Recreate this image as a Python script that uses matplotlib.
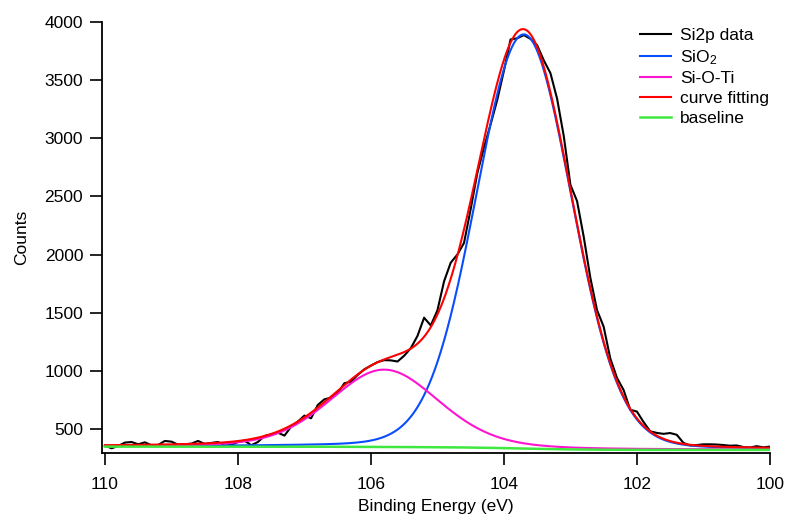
import numpy as np
import matplotlib
matplotlib.use("Agg")
import matplotlib.pyplot as plt

plt.rcParams['font.family'] = ['Liberation Sans', 'DejaVu Sans']
plt.rcParams['mathtext.fontset'] = 'custom'
plt.rcParams['mathtext.rm'] = 'Liberation Sans'
plt.rcParams['mathtext.it'] = 'Liberation Sans:italic'

# Si2p raw data, binding energy 110.0 -> 100.0 eV in 0.1 eV steps
counts = [357, 334, 354, 383, 388, 368, 385, 360, 362, 397,
          391, 365, 368, 374, 397, 371, 380, 388, 357, 362,
          388, 400, 360, 388, 440, 452, 468, 443, 520, 563,
          615, 592, 706, 755, 769, 807, 893, 907, 964, 1013,
          1045, 1075, 1092, 1090, 1080, 1130, 1195, 1300, 1457, 1390,
          1520, 1770, 1930, 2000, 2100, 2390, 2700, 2920, 3120, 3330,
          3580, 3850, 3860, 3888, 3855, 3800, 3670, 3560, 3340, 3020,
          2600, 2460, 2154, 1800, 1523, 1380, 1107, 940, 835, 665,
          650, 560, 480, 466, 458, 465, 450, 380, 358, 362,
          368, 368, 366, 362, 356, 358, 345, 340, 352, 342,
          348]
energy = np.linspace(110.0, 100.0, len(counts))

# fitted peak parameters (center eV, height, FWHM eV, Lorentzian fraction)
sio2_peak = dict(center=103.70, height=3562, fwhm=1.70, lor=0.08)
siOti_peak = dict(center=105.80, height=665, fwhm=1.93, lor=0.22)
# baseline end levels (high BE side, low BE side)
baseline_high = 348
baseline_low = 320

labels = ["Si2p data", "SiO$_2$", "Si-O-Ti", "curve fitting", "baseline"]
xticks = [110, 108, 106, 104, 102, 100]
yticks = [500, 1000, 1500, 2000, 2500, 3000, 3500, 4000]


def gl(x, center, height, fwhm, lor):
    d = (x - center) / fwhm
    g = np.exp(-4 * np.log(2) * d ** 2)
    l = 1.0 / (1 + 4 * d ** 2)
    return height * ((1 - lor) * g + lor * l)


xf = np.linspace(110.0, 100.0, 1001)
p1 = gl(xf, **sio2_peak)
p2 = gl(xf, **siOti_peak)
tot = p1 + p2
# Shirley-type step: proportional to peak area on the low-BE side
area = np.cumsum(tot[::-1])[::-1]
area = area / area[0]
base = baseline_low + (baseline_high - baseline_low) * area

fig = plt.figure(figsize=(7.88, 5.17), dpi=100)
ax = fig.add_axes([0.1294, 0.1244, 0.977 - 0.1294, 0.9574 - 0.1244])

lw = 1.5
ax.plot(energy, counts, color='black', lw=lw, label=labels[0])
ax.plot(xf, base + p1, color='#0a4dff', lw=lw, label=labels[1])
ax.plot(xf, base + p2, color='#ff14d0', lw=lw, label=labels[2])
ax.plot(xf, base + tot, color='#ff0000', lw=lw, label=labels[3])
ax.plot(xf, base, color='#3ee83e', lw=lw + 0.3, label=labels[4])

ax.set_xlim(110.045, 100.0)
ax.set_ylim(296, 4000)
ax.set_xticks(xticks)
ax.set_yticks(yticks)
ax.set_xticklabels([str(t) for t in xticks])
ax.set_yticklabels([str(t) for t in yticks])

for s in ['top', 'right']:
    ax.spines[s].set_visible(False)
for s in ['left', 'bottom']:
    ax.spines[s].set_linewidth(1.3)
ax.tick_params(direction='out', length=8.5, width=1.2, labelsize=12.5)
ax.tick_params(axis='x', pad=9)
ax.tick_params(axis='y', pad=5)

ax.set_xlabel("Binding Energy (eV)", fontsize=12.5, labelpad=5)
ax.set_ylabel("Counts", fontsize=12.5, labelpad=11)

leg = ax.legend(loc='upper left', bbox_to_anchor=(640 / 788, 1 - 28 / 517),
                bbox_transform=fig.transFigure, frameon=False, fontsize=12.5,
                handlelength=1.8, handletextpad=0.5, labelspacing=0.27,
                borderpad=0, borderaxespad=0)

fig.savefig("out.png", dpi=100)
